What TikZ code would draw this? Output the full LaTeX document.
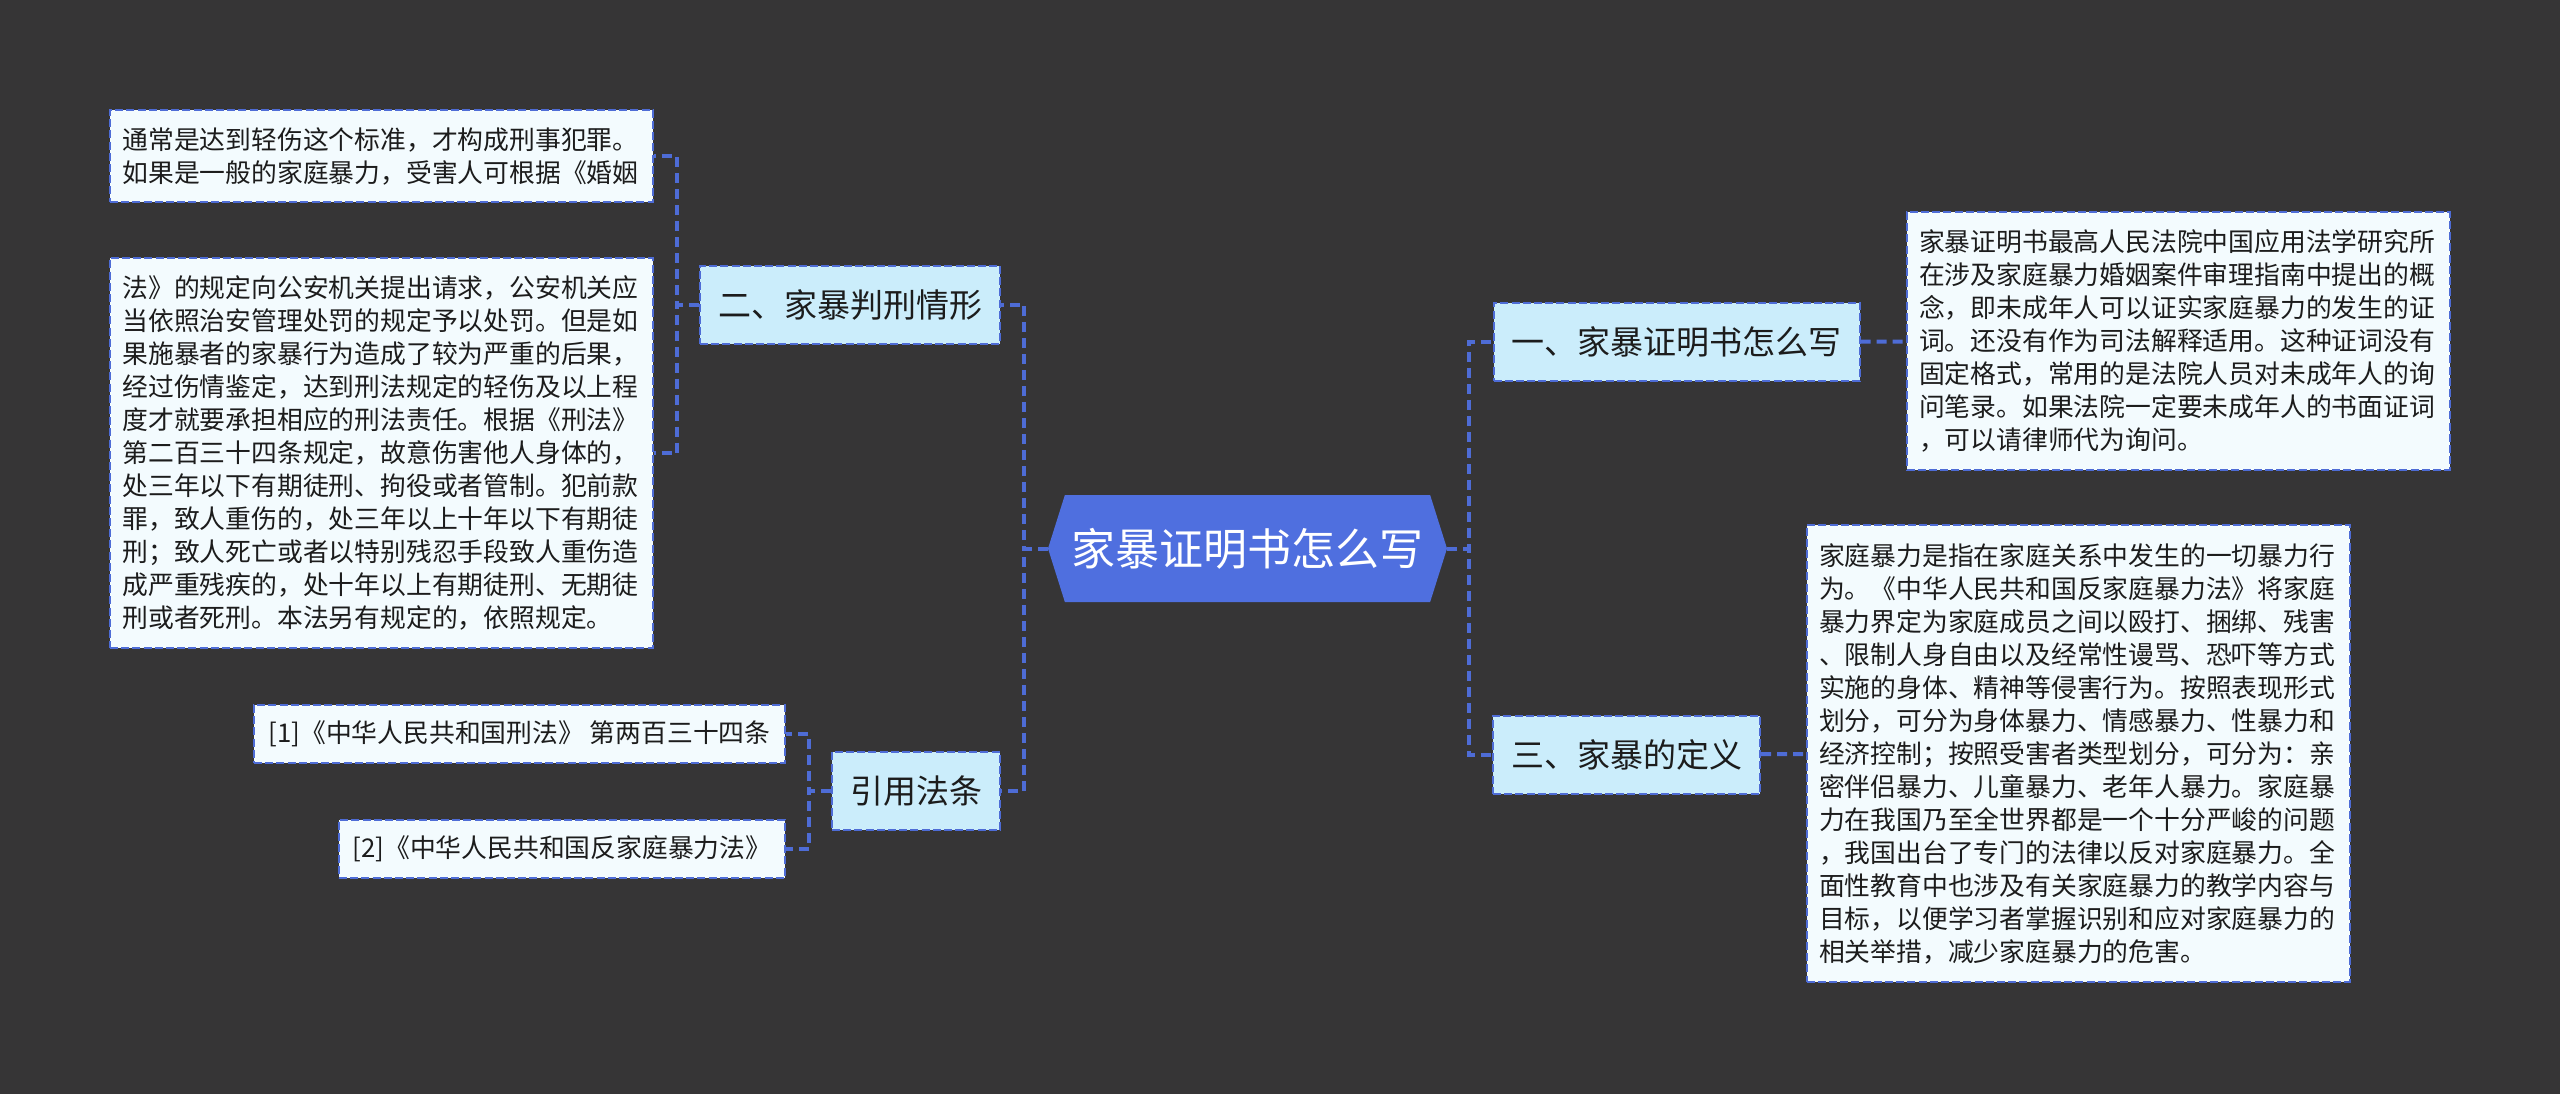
\documentclass[tikz,border=0pt]{standalone}
\usepackage{fontspec}
\setmainfont{Noto Sans CJK SC}
\usepackage{tikz}
\usetikzlibrary{shapes.symbols}
\definecolor{canvasgrey}{HTML}{363536}
\definecolor{rootblue}{HTML}{4F6FDF}
\definecolor{linkblue}{HTML}{4E6CD6}
\definecolor{topicfill}{HTML}{CBEDFB}
\definecolor{notefill}{HTML}{F3FBFE}
\definecolor{inkdark}{HTML}{1C1C1C}

\begin{document}
\begin{tikzpicture}[
  x=0.5pt, y=-0.5pt,
  rootbox/.style={shape=signal, signal to=east and west, signal pointer angle=145,
                  fill=rootblue, text=white, font=\fontsize{22}{26}\selectfont,
                  minimum width=199.5pt, minimum height=53.5pt, inner sep=0pt},
  boxline/.style={draw=linkblue, line width=1pt, dash pattern=on 4pt off 1.6pt},
  topic/.style={boxline, fill=topicfill, text=inkdark,
                font=\fontsize{16.5}{20}\selectfont,
                inner xsep=9pt, minimum height=39pt},
  note/.style={boxline, fill=notefill, text=inkdark,
               font=\fontsize{12.9}{16.5}\selectfont,
               align=left, text width=259pt, inner xsep=6.25pt},
  cite/.style={boxline, fill=notefill, text=inkdark,
               font=\fontsize{12.9}{16.5}\selectfont, minimum height=29pt},
  link/.style={draw=linkblue, line width=2pt, dash pattern=on 5pt off 3pt},
]
\fill[canvasgrey] (0,0) rectangle (2560,1094);

\node[rootbox] (root) at (1247.5,548.5) {家暴证明书怎么写};

\node[topic] (er) at (850,304.5) {二、家暴判刑情形};
\node[topic] (yy) at (916,791) {引用法条};
\node[topic] (yi) at (1676.5,342) {一、家暴证明书怎么写};
\node[topic] (san) at (1626.5,754.5) {三、家暴的定义};

\node[note, minimum height=46pt] (erA) at (381.5,156)
  {通常是达到轻伤这个标准，才构成刑事犯罪。\\
   如果是一般的家庭暴力，受害人可根据《婚姻};
\node[note, minimum height=195pt] (erB) at (381.5,453)
  {法》的规定向公安机关提出请求，公安机关应\\
   当依照治安管理处罚的规定予以处罚。但是如\\
   果施暴者的家暴行为造成了较为严重的后果，\\
   经过伤情鉴定，达到刑法规定的轻伤及以上程\\
   度才就要承担相应的刑法责任。根据《刑法》\\
   第二百三十四条规定，故意伤害他人身体的，\\
   处三年以下有期徒刑、拘役或者管制。犯前款\\
   罪，致人重伤的，处三年以上十年以下有期徒\\
   刑；致人死亡或者以特别残忍手段致人重伤造\\
   成严重残疾的，处十年以上有期徒刑、无期徒\\
   刑或者死刑。本法另有规定的，依照规定。};

\node[cite, minimum width=265.5pt] (cite1) at (519.5,734)
  {[1]《中华人民共和国刑法》 第两百三十四条};
\node[cite, minimum width=223pt] (cite2) at (562,848.5)
  {[2]《中华人民共和国反家庭暴力法》};

\node[note, minimum height=129pt] (yinote) at (2178,341)
  {家暴证明书最高人民法院中国应用法学研究所\\
   在涉及家庭暴力婚姻案件审理指南中提出的概\\
   念，即未成年人可以证实家庭暴力的发生的证\\
   词。还没有作为司法解释适用。这种证词没有\\
   固定格式，常用的是法院人员对未成年人的询\\
   问笔录。如果法院一定要未成年人的书面证词\\
   ，可以请律师代为询问。};
\node[note, minimum height=228.5pt] (sannote) at (2078,753.5)
  {家庭暴力是指在家庭关系中发生的一切暴力行\\
   为。《中华人民共和国反家庭暴力法》将家庭\\
   暴力界定为家庭成员之间以殴打、捆绑、残害\\
   、限制人身自由以及经常性谩骂、恐吓等方式\\
   实施的身体、精神等侵害行为。按照表现形式\\
   划分，可分为身体暴力、情感暴力、性暴力和\\
   经济控制；按照受害者类型划分，可分为：亲\\
   密伴侣暴力、儿童暴力、老年人暴力。家庭暴\\
   力在我国乃至全世界都是一个十分严峻的问题\\
   ，我国出台了专门的法律以反对家庭暴力。全\\
   面性教育中也涉及有关家庭暴力的教学内容与\\
   目标，以便学习者掌握识别和应对家庭暴力的\\
   相关举措，减少家庭暴力的危害。};

\coordinate (jl) at (1024,548.5);
\coordinate (jr) at (1469,548.5);
\coordinate (je) at (677,304.5);
\coordinate (jy) at (809,791);

\foreach \t in {er,yy} { \draw[link] (root.west) -- (jl) |- (\t.east); }
\foreach \t in {yi,san} { \draw[link] (root.east) -- (jr) |- (\t.west); }
\foreach \t in {erA,erB} { \draw[link] (er.west) -- (je) |- (\t.east); }
\foreach \t in {cite1,cite2} { \draw[link] (yy.west) -- (jy) |- (\t.east); }
\draw[link] (yi) -- (yinote);
\draw[link] (san) -- (sannote);
\end{tikzpicture}
\end{document}
